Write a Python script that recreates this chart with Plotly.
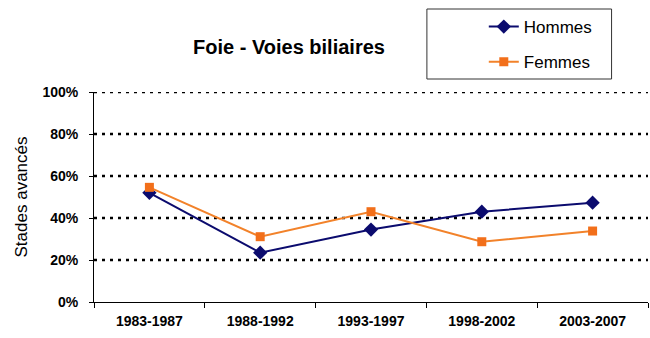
import plotly.graph_objects as go

periods = ["1983-1987", "1988-1992", "1993-1997", "1998-2002", "2003-2007"]
hommes = [52.0, 23.5, 34.5, 43.0, 47.3]
femmes = [54.6, 31.1, 43.0, 28.7, 33.8]
y_ticks = [0, 20, 40, 60, 80, 100]
y_tick_labels = ["0%", "20%", "40%", "60%", "80%", "100%"]

W, H = 650, 338
L, R, T, B = 93.5, 1.5, 92, 36
pw, ph = W - L - R, H - T - B

def px_x(p):
    return (p - L) / pw

def px_y(p):
    return (H - B - p) / ph

font_main = "Liberation Sans, Arial, sans-serif"

fig = go.Figure()
fig.add_trace(go.Scatter(
    x=periods, y=hommes, name="Hommes", mode="lines+markers",
    line=dict(color="#0b0b6e", width=2),
    marker=dict(symbol="diamond", size=11, color="#0b0b6e"),
    legendgroup="h",
))
fig.add_trace(go.Scatter(
    x=periods, y=femmes, name="Femmes", mode="lines+markers",
    line=dict(color="#F2822A", width=2),
    marker=dict(symbol="square", size=9, color="#F26F1A"),
    legendgroup="f",
))

# dotted gridlines
for v in y_ticks[1:]:
    fig.add_shape(type="line", xref="paper", yref="y", x0=0, x1=1, y0=v, y1=v,
                  line=dict(color="black", width=2.5, dash="3px,5px"), layer="below")

# legend frame
fig.add_shape(type="rect", xref="paper", yref="paper",
              x0=px_x(427), x1=px_x(612), y0=px_y(79), y1=px_y(9),
              line=dict(color="#333333", width=1), fillcolor="white", layer="below")

fig.add_annotation(text="<b>Foie - Voies biliaires</b>", xref="paper", yref="paper",
                   x=px_x(289), y=px_y(47), xanchor="center", yanchor="middle",
                   showarrow=False, font=dict(size=20, family=font_main, color="black"))

fig.update_layout(
    width=W, height=H,
    margin=dict(l=L, r=R, t=T, b=B, autoexpand=False),
    paper_bgcolor="white", plot_bgcolor="white",
    font=dict(family=font_main, color="black"),
    showlegend=True,
    legend=dict(x=px_x(484), y=px_y(9), xanchor="left", yanchor="top",
                bgcolor="rgba(0,0,0,0)", borderwidth=0,
                font=dict(size=17, family=font_main, color="black"),
                tracegroupgap=10, traceorder="grouped"),
    xaxis=dict(
        type="category", range=[-0.5, 4.5],
        showgrid=False, zeroline=False,
        showline=True, linecolor="black", linewidth=1,
        ticks="outside", tickson="boundaries", ticklen=5, tickcolor="black",
        tickfont=dict(size=14, family=font_main, color="black"),
        tickvals=periods, ticktext=["<b>%s</b>" % p for p in periods],
        ticklabelstandoff=6,
    ),
    yaxis=dict(
        range=[0, 100], tickvals=y_ticks,
        ticktext=["<b>%s</b>" % t for t in y_tick_labels],
        showgrid=False, zeroline=False,
        showline=True, linecolor="black", linewidth=1,
        ticks="outside", ticklen=4, tickcolor="black",
        tickfont=dict(size=14, family=font_main, color="black"),
        ticklabelstandoff=8,
        title=dict(text="Stades avancés", standoff=10,
                   font=dict(size=17, family=font_main, color="black")),
    ),
)

fig.write_html("out.html",
               config={"displayModeBar": False},
               post_script="document.body.style.margin='0';document.body.style.overflow='hidden';")
